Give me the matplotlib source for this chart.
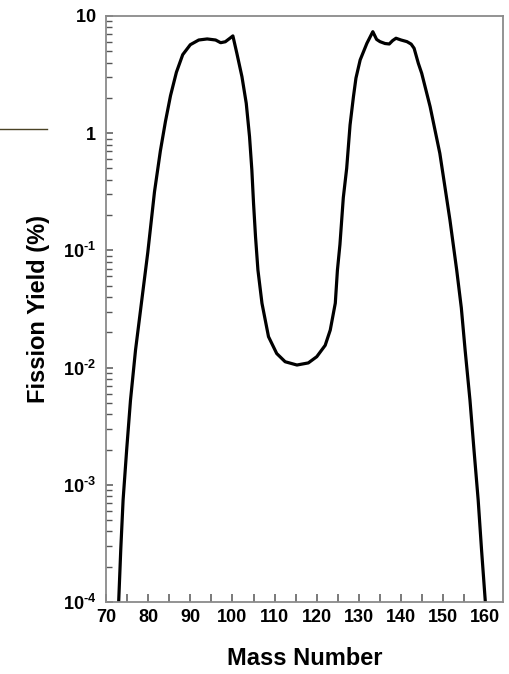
import numpy as np
import matplotlib
matplotlib.use("Agg")
import matplotlib.pyplot as plt
from matplotlib.lines import Line2D

# mass number vs log10 of fission yield (%)
mass = [73.0, 73.5, 74.05, 74.9, 75.8, 77.0, 78.5, 79.9, 81.5, 82.9,
        84.1, 85.3, 86.7, 88.2, 90.0, 92.0, 94.0, 96.0, 97.2, 98.3,
        99.4, 100.1, 101.05, 102.25, 103.27, 104.05, 104.6, 105.0, 105.47, 106.04,
        107.0, 108.55, 110.5, 112.5, 115.3, 118.0, 120.0, 122.0, 123.2, 124.4,
        124.9, 125.5, 126.3, 127.1, 127.9, 128.7, 129.3, 130.3, 131.9, 133.3,
        134.2, 135.0, 136.2, 137.2, 138.0, 138.8, 140.0, 141.4, 142.4, 143.1,
        144.1, 144.9, 145.7, 146.9, 148.05, 149.2, 150.4, 151.6, 153.2, 154.3,
        155.2, 156.35, 157.3, 158.3, 159.1, 160.0]
log_yield = [-4.0, -3.55, -3.13, -2.70, -2.28, -1.85, -1.42, -1.02, -0.50, -0.15,
             0.10, 0.32, 0.52, 0.67, 0.755, 0.795, 0.804, 0.795, 0.772, 0.78,
             0.81, 0.83, 0.68, 0.482, 0.255, -0.03, -0.314, -0.598, -0.883, -1.167,
             -1.451, -1.736, -1.88, -1.95, -1.978, -1.96, -1.907, -1.81, -1.68, -1.45,
             -1.17, -0.95, -0.55, -0.30, 0.07, 0.31, 0.47, 0.625, 0.767, 0.866,
             0.80, 0.781, 0.765, 0.761, 0.79, 0.81, 0.795, 0.781, 0.76, 0.724,
             0.596, 0.511, 0.397, 0.226, 0.027, -0.172, -0.456, -0.741, -1.167, -1.49,
             -1.85, -2.277, -2.70, -3.13, -3.556, -4.0]

x_labels = [70, 80, 90, 100, 110, 120, 130, 140, 150, 160]
x_minor = [75, 85, 95, 105, 115, 125, 135, 145, 155]
y_major = [1e-4, 1e-3, 1e-2, 1e-1, 1, 10]
y_labels = ["$\\mathbf{10^{\u2010" + "4}}$", "$\\mathbf{10^{\u2010" + "3}}$",
            "$\\mathbf{10^{\u2010" + "2}}$", "$\\mathbf{10^{\u2010" + "1}}$",
            r"$\mathbf{1}$", r"$\mathbf{10}$"]

plt.rcParams["font.family"] = ["Liberation Sans", "DejaVu Sans"]
plt.rcParams["mathtext.fontset"] = "custom"
plt.rcParams["mathtext.bf"] = "Liberation Sans:bold"
plt.rcParams["mathtext.rm"] = "Liberation Sans"

fig = plt.figure(figsize=(5.09, 6.74), dpi=100)
ax = fig.add_axes([0.2083, 0.1068, 0.78, 0.8695])

ax.plot(mass, 10 ** np.array(log_yield), color="black", lw=2.3,
        solid_joinstyle="round", solid_capstyle="round")

ax.set_yscale("log")
ax.set_xlim(70, 164.2)
ax.set_ylim(1e-4, 10)

ax.set_xticks(x_labels)
ax.set_xticklabels([str(v) for v in x_labels])
ax.set_xticks(x_minor, minor=True)
ax.set_yticks(y_major)
ax.set_yticklabels(y_labels)

gray = "#8a8a8a"
for s in ax.spines.values():
    s.set_color(gray)
    s.set_linewidth(1.3)

ax.tick_params(axis="x", which="both", direction="in", length=6, width=1.1,
               color="#555555", labelsize=13, pad=5)
ax.tick_params(axis="y", which="major", direction="in", length=5, width=1.1,
               color="#555555", labelsize=13, pad=7)
ax.tick_params(axis="y", which="minor", direction="in", length=4, width=1.0,
               color="#555555")
for lab in ax.get_xticklabels():
    lab.set_fontweight("bold")

ax.set_xlabel("Mass Number", fontsize=17, fontweight="bold", labelpad=15)
ax.set_ylabel("Fission Yield (%)", fontsize=17, fontweight="bold", labelpad=9)

# stray horizontal rule at the left edge of the scanned figure
fig.add_artist(Line2D([0, 47 / 509], [1 - 129 / 674, 1 - 129 / 674],
                      transform=fig.transFigure, color="#4a4224", lw=1.0))

fig.savefig("out.png", dpi=100)
